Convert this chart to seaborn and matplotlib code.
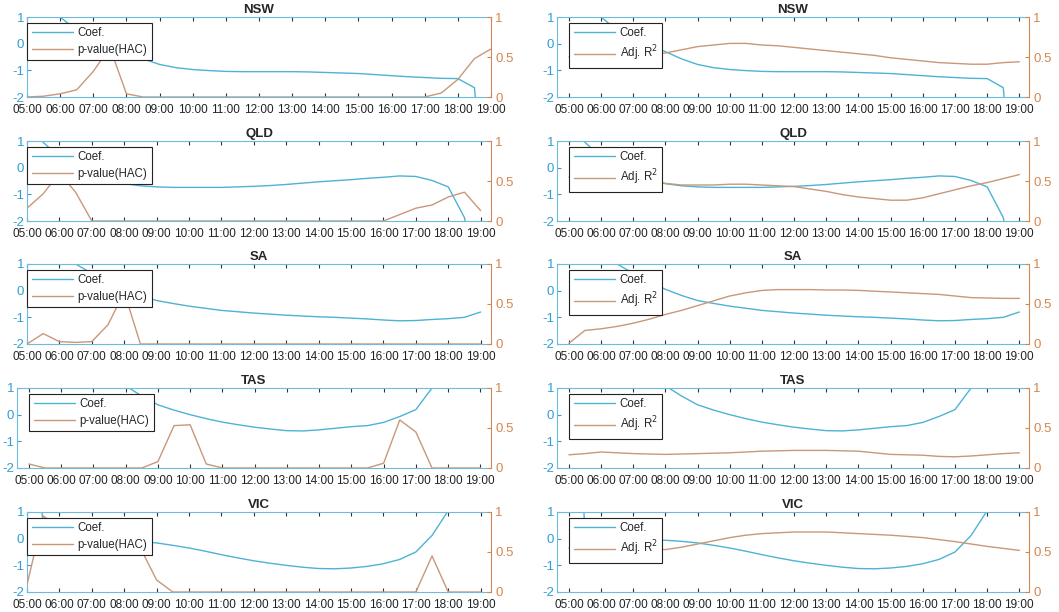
import matplotlib
matplotlib.use('Agg')
import matplotlib.pyplot as plt
import matplotlib.transforms as mtransforms
import seaborn as sns
import pandas as pd

TIMES = ["05:00", "05:30", "06:00", "06:30", "07:00", "07:30", "08:00", "08:30",
         "09:00", "09:30", "10:00", "10:30", "11:00", "11:30", "12:00", "12:30",
         "13:00", "13:30", "14:00", "14:30", "15:00", "15:30", "16:00", "16:30",
         "17:00", "17:30", "18:00", "18:30", "19:00"]
HOUR_LABELS = ["05:00", "06:00", "07:00", "08:00", "09:00", "10:00", "11:00", "12:00",
               "13:00", "14:00", "15:00", "16:00", "17:00", "18:00", "19:00"]
REGIONS = ["NSW", "QLD", "SA", "TAS", "VIC"]

# coefficient (left axis) - values outside [-2, 1] run off the panel
coef_nsw = [3.0, 2.0, 1.0, 0.5, 0.2, -0.05, -0.3, -0.57, -0.78, -0.9, -0.97, -1.01, -1.04, -1.05, -1.05,
            -1.05, -1.05, -1.06, -1.08, -1.1, -1.12, -1.16, -1.2, -1.24, -1.27, -1.3, -1.31, -1.65, -8.0]
coef_qld = [1.6, 0.95, 0.4, 0.0, -0.3, -0.5, -0.6, -0.68, -0.72, -0.74, -0.74, -0.74, -0.74, -0.72, -0.7,
            -0.67, -0.63, -0.58, -0.53, -0.49, -0.45, -0.4, -0.36, -0.31, -0.33, -0.48, -0.72, -1.87, -5.0]
coef_sa = [3.0, 2.2, 1.5, 1.0, 0.65, 0.35, 0.05, -0.18, -0.37, -0.48, -0.58, -0.66, -0.74, -0.79, -0.84,
           -0.88, -0.92, -0.95, -0.98, -1.0, -1.03, -1.06, -1.1, -1.13, -1.12, -1.08, -1.05, -1.0, -0.8]
coef_tas = [5.0, 4.2, 3.5, 2.8, 2.2, 1.6, 1.08, 0.7, 0.37, 0.17, 0.0, -0.15, -0.28, -0.38, -0.47,
            -0.54, -0.6, -0.61, -0.57, -0.51, -0.45, -0.41, -0.29, -0.07, 0.19, 1.0, 2.5, 4.0, 5.5]
coef_vic = [12.0, 0.2, 0.1, 0.05, 0.0, -0.03, -0.06, -0.1, -0.16, -0.25, -0.35, -0.47, -0.6, -0.72, -0.83,
            -0.92, -1.0, -1.07, -1.12, -1.13, -1.1, -1.04, -0.94, -0.78, -0.5, 0.12, 1.05, 3.0, 5.0]

# p-value (HAC), right axis of left column
pval_nsw = [0.0, 0.01, 0.04, 0.09, 0.32, 0.62, 0.04, 0.0, 0.0, 0.0, 0.0, 0.0, 0.0, 0.0, 0.0,
            0.0, 0.0, 0.0, 0.0, 0.0, 0.0, 0.0, 0.0, 0.0, 0.0, 0.05, 0.22, 0.48, 0.6]
pval_qld = [0.16, 0.34, 0.6, 0.36, 0.0, 0.0, 0.0, 0.0, 0.0, 0.0, 0.0, 0.0, 0.0, 0.0, 0.0,
            0.0, 0.0, 0.0, 0.0, 0.0, 0.0, 0.0, 0.0, 0.08, 0.16, 0.2, 0.3, 0.36, 0.13]
pval_sa = [0.0, 0.13, 0.03, 0.02, 0.03, 0.24, 0.65, 0.0, 0.0, 0.0, 0.0, 0.0, 0.0, 0.0, 0.0,
           0.0, 0.0, 0.0, 0.0, 0.0, 0.0, 0.0, 0.0, 0.0, 0.0, 0.0, 0.0, 0.0, 0.0]
pval_tas = [0.05, 0.0, 0.0, 0.0, 0.0, 0.0, 0.0, 0.0, 0.08, 0.53, 0.54, 0.05, 0.0, 0.0, 0.0,
            0.0, 0.0, 0.0, 0.0, 0.0, 0.0, 0.0, 0.06, 0.6, 0.45, 0.0, 0.0, 0.0, 0.0]
pval_vic = [0.09, 0.95, 0.8, 0.75, 0.7, 0.7, 0.72, 0.55, 0.15, 0.0, 0.0, 0.0, 0.0, 0.0, 0.0,
            0.0, 0.0, 0.0, 0.0, 0.0, 0.0, 0.0, 0.0, 0.0, 0.0, 0.45, 0.0, 0.0, 0.0]

# adjusted R^2, right axis of right column
adjr2_nsw = [0.5, 0.5, 0.5, 0.5, 0.5, 0.52, 0.55, 0.59, 0.63, 0.65, 0.67, 0.67, 0.65, 0.64, 0.62,
             0.6, 0.58, 0.56, 0.54, 0.52, 0.49, 0.47, 0.45, 0.43, 0.42, 0.41, 0.41, 0.43, 0.44]
adjr2_qld = [0.55, 0.55, 0.54, 0.53, 0.52, 0.5, 0.47, 0.45, 0.45, 0.45, 0.46, 0.46, 0.45, 0.44, 0.43,
             0.4, 0.37, 0.33, 0.3, 0.28, 0.26, 0.26, 0.29, 0.34, 0.39, 0.44, 0.48, 0.53, 0.58]
adjr2_sa = [0.01, 0.17, 0.19, 0.22, 0.26, 0.31, 0.37, 0.42, 0.48, 0.54, 0.6, 0.64, 0.67, 0.68, 0.68,
            0.68, 0.675, 0.675, 0.67, 0.66, 0.65, 0.64, 0.63, 0.62, 0.6, 0.58, 0.575, 0.57, 0.57]
adjr2_tas = [0.165, 0.18, 0.2, 0.19, 0.18, 0.175, 0.17, 0.175, 0.18, 0.185, 0.19, 0.2, 0.21, 0.215, 0.22,
             0.22, 0.22, 0.215, 0.21, 0.19, 0.17, 0.165, 0.16, 0.145, 0.14, 0.15, 0.165, 0.18, 0.19]
adjr2_vic = [0.55, 0.55, 0.55, 0.55, 0.55, 0.54, 0.53, 0.56, 0.6, 0.64, 0.68, 0.71, 0.73, 0.74, 0.75,
             0.75, 0.75, 0.74, 0.73, 0.72, 0.71, 0.695, 0.68, 0.655, 0.63, 0.6, 0.57, 0.545, 0.52]

coefs = [coef_nsw, coef_qld, coef_sa, coef_tas, coef_vic]
pvals = [pval_nsw, pval_qld, pval_sa, pval_tas, pval_vic]
adjr2s = [adjr2_nsw, adjr2_qld, adjr2_sa, adjr2_tas, adjr2_vic]

sns.set_style('white')
plt.rcParams['font.family'] = ['Liberation Sans', 'DejaVu Sans']
plt.rcParams['axes.unicode_minus'] = False

C_COEF = '#4db3d4'
C_SEC = '#c9977a'
C_LEFT = '#2f9fd3'
C_RIGHT = '#d4874f'

hours = [int(t[:2]) + int(t[3:]) / 60 for t in TIMES]

W, H = 1059, 612
row_top = [17, 141, 264, 388, 512]
ax_h = 80

fig = plt.figure(figsize=(W / 100, H / 100), dpi=100)


def panel(x0, x1, top, xlim, region, coef, sec, sec_label):
    ax = fig.add_axes([x0 / W, 1 - (top + ax_h) / H, (x1 - x0) / W, ax_h / H])
    df = pd.DataFrame({'t': hours, 'coef': coef, 'sec': sec})
    sns.lineplot(data=df, x='t', y='coef', ax=ax, color=C_COEF, lw=1.0, legend=False)
    ax.set_ylim(-2, 1)
    ax.set_xlim(*xlim)
    ax.set_xticks(range(5, 20))
    ax.set_xticklabels(HOUR_LABELS)
    ax.set_yticks([-2, -1, 0, 1])
    ax.set_yticklabels(['-2', '-1', '0', '1'])
    ax.set_xlabel('')
    ax.set_ylabel('')
    ax.tick_params(axis='x', direction='in', top=True, bottom=True, length=3, width=0.8,
                   labelsize=8.5, pad=5, color='#333333', labelcolor='#222222')
    ax.tick_params(axis='y', direction='in', length=3, width=0.8, labelsize=9.5, pad=2,
                   color=C_LEFT, labelcolor=C_LEFT)
    for s in ['left', 'top', 'bottom']:
        ax.spines[s].set_color('#6dbcdc')
        ax.spines[s].set_linewidth(0.8)
    ax.spines['right'].set_visible(False)
    ax.set_title(region, fontweight='bold', fontsize=9.5, pad=3)

    ax2 = ax.twinx()
    sns.lineplot(data=df, x='t', y='sec', ax=ax2, color=C_SEC, lw=1.0, legend=False)
    ax2.set_ylim(0, 1)
    ax2.set_yticks([0, 0.5, 1])
    ax2.set_yticklabels(['0', '0.5', '1'])
    ax2.set_ylabel('')
    ax2.tick_params(axis='y', direction='in', length=3, width=0.8, labelsize=9.5, pad=3,
                    color=C_RIGHT, labelcolor=C_RIGHT)
    for s in ['left', 'top', 'bottom']:
        ax2.spines[s].set_visible(False)
    ax2.spines['right'].set_color(C_RIGHT)
    ax2.spines['right'].set_linewidth(0.8)

    handles = [ax.get_lines()[0], ax2.get_lines()[0]]
    trans = mtransforms.blended_transform_factory(ax.transData, ax.transAxes)
    leg = ax2.legend(handles, ['Coef.', sec_label], loc='upper left',
                     bbox_to_anchor=(5, 0.93), bbox_transform=trans, borderaxespad=0,
                     fontsize=8.3, frameon=True, fancybox=False, framealpha=1,
                     edgecolor='#222222', borderpad=0.4, labelspacing=0.4,
                     handlelength=3.6, handletextpad=0.4)
    leg.get_frame().set_linewidth(0.8)


for i, region in enumerate(REGIONS):
    left_x0 = 17 if region == 'TAS' else 27
    left_xlim = (5, 19) if region == 'NSW' else ((4.63, 19.33) if region == 'TAS' else (5, 19.32))
    panel(left_x0, 491, row_top[i], left_xlim, region, coefs[i], pvals[i], 'p-value(HAC)')
    panel(557, 1029, row_top[i], (4.63, 19.3), region, coefs[i], adjr2s[i], 'Adj. R$^2$')

fig.savefig('out.png', dpi=100)
